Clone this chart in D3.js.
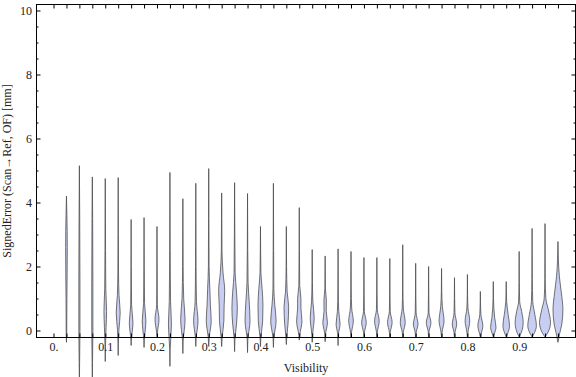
<!DOCTYPE html>
<html>
<head>
<meta charset="utf-8">
<script src="https://cdn.jsdelivr.net/npm/d3@7"></script>
<style>
  body { margin: 0; background: #fff; }
  text { font-family: "Liberation Serif", "DejaVu Serif", serif; fill: #222; }
</style>
</head>
<body>
<svg id="chart" width="576" height="377"></svg>
<script>
// violin centres (visibility bins)
const visibility = [0.025, 0.05, 0.075, 0.1, 0.125, 0.15, 0.175, 0.2, 0.225, 0.25,
  0.275, 0.3, 0.325, 0.35, 0.375, 0.4, 0.425, 0.45, 0.475, 0.5,
  0.525, 0.55, 0.575, 0.6, 0.625, 0.65, 0.675, 0.7, 0.725, 0.75,
  0.775, 0.8, 0.825, 0.85, 0.875, 0.9, 0.925, 0.95, 0.975];

// range of signed error per bin [mm]
const errMin = [-0.37, -1.6, -1.6, -0.97, -0.78, -0.47, -0.53, -0.2, -1.12, -0.72,
  -0.5, -0.5, -0.5, -0.66, -0.69, -0.5, -0.53, -0.44, -0.3, -0.37,
  -0.35, -0.47, -0.22, -0.2, -0.22, -0.22, -0.22, -0.22, -0.22, -0.22,
  -0.22, -0.22, -0.2, -0.2, -0.2, -0.2, -0.2, -0.2, -0.37];
const errMax = [4.2, 5.15, 4.8, 4.75, 4.78, 3.47, 3.53, 3.25, 4.94, 4.12,
  4.6, 5.06, 4.3, 4.62, 4.28, 3.25, 4.6, 3.25, 3.84, 2.53,
  2.33, 2.55, 2.47, 2.28, 2.28, 2.25, 2.68, 2.1, 2.0, 1.94,
  1.65, 1.75, 1.22, 1.53, 1.53, 2.47, 3.19, 3.34, 2.78];

// smoothed density knots [error, relative density] inside each range
const densityKnots = [
  [[-0.1, 0.05], [1.0, 0.08], [2.6, 0.15], [3.6, 0.08]],
  [[-1.0, 0.04], [0, 0.1], [1.5, 0.1], [3.5, 0.06]],
  [[-1.0, 0.04], [0, 0.1], [1.5, 0.1], [3.5, 0.06]],
  [[-0.5, 0.04], [0.1, 0.15], [0.6, 0.24], [1.3, 0.1], [2.5, 0.05]],
  [[-0.4, 0.03], [0, 0.12], [0.55, 0.36], [1.1, 0.15], [1.8, 0.06], [3, 0.03]],
  [[-0.3, 0.04], [0.25, 0.33], [0.8, 0.08], [2, 0.03]],
  [[-0.3, 0.05], [0.3, 0.33], [0.85, 0.09], [2, 0.03]],
  [[-0.05, 0.08], [0.35, 0.36], [0.8, 0.06], [1.8, 0.03]],
  [[-0.6, 0.04], [0.2, 0.27], [0.9, 0.12], [2.5, 0.05]],
  [[-0.35, 0.05], [0.35, 0.4], [1.0, 0.15], [2, 0.05]],
  [[-0.25, 0.06], [0.3, 0.4], [0.9, 0.12], [2, 0.05]],
  [[-0.2, 0.1], [0.3, 0.45], [0.8, 0.3], [1.3, 0.2], [2.0, 0.06], [3.5, 0.03]],
  [[-0.2, 0.1], [0.3, 0.4], [0.8, 0.45], [1.25, 0.55], [1.8, 0.25], [2.5, 0.06], [3.5, 0.03]],
  [[-0.3, 0.05], [0.2, 0.35], [0.7, 0.49], [1.2, 0.35], [1.8, 0.1], [3, 0.04]],
  [[-0.3, 0.05], [0.3, 0.45], [0.9, 0.3], [1.5, 0.1], [2.5, 0.04]],
  [[-0.2, 0.08], [0.3, 0.4], [0.8, 0.45], [1.3, 0.3], [1.8, 0.08], [2.5, 0.03]],
  [[-0.25, 0.06], [0.3, 0.49], [0.8, 0.25], [1.3, 0.08], [2.5, 0.04]],
  [[-0.2, 0.08], [0.2, 0.3], [0.75, 0.42], [1.2, 0.15], [2, 0.04]],
  [[-0.15, 0.08], [0.3, 0.49], [0.7, 0.3], [1.0, 0.3], [1.4, 0.08], [2.5, 0.03]],
  [[-0.15, 0.06], [0.4, 0.36], [0.9, 0.12], [1.5, 0.04]],
  [[-0.1, 0.08], [0.25, 0.42], [0.6, 0.2], [0.95, 0.22], [1.3, 0.05]],
  [[-0.1, 0.08], [0.2, 0.36], [0.6, 0.12], [1.2, 0.04]],
  [[-0.05, 0.1], [0.3, 0.42], [0.7, 0.12], [1.3, 0.04]],
  [[-0.08, 0.06], [0.25, 0.42], [0.6, 0.08], [1.2, 0.03]],
  [[-0.05, 0.08], [0.3, 0.42], [0.65, 0.08], [1.2, 0.03]],
  [[-0.05, 0.08], [0.25, 0.42], [0.6, 0.08], [1.2, 0.03]],
  [[-0.05, 0.1], [0.25, 0.45], [0.7, 0.1], [1.3, 0.03]],
  [[-0.05, 0.1], [0.2, 0.42], [0.55, 0.08], [1.1, 0.03]],
  [[-0.03, 0.08], [0.25, 0.42], [0.55, 0.07], [1.1, 0.03]],
  [[-0.05, 0.1], [0.3, 0.45], [0.75, 0.15], [1.2, 0.04]],
  [[-0.05, 0.1], [0.2, 0.4], [0.55, 0.08], [1.0, 0.03]],
  [[-0.05, 0.1], [0.3, 0.42], [0.7, 0.1], [1.1, 0.03]],
  [[-0.1, 0.15], [0.15, 0.45], [0.5, 0.1], [0.9, 0.03]],
  [[-0.1, 0.2], [0.1, 0.49], [0.4, 0.25], [0.7, 0.1], [1.0, 0.04]],
  [[-0.1, 0.25], [0.15, 0.6], [0.5, 0.35], [0.9, 0.08], [1.2, 0.03]],
  [[-0.1, 0.3], [0.25, 0.73], [0.6, 0.45], [0.9, 0.1], [1.5, 0.03]],
  [[-0.1, 0.35], [0.15, 0.78], [0.5, 0.5], [0.9, 0.12], [1.6, 0.04]],
  [[-0.1, 0.4], [0.25, 1.0], [0.65, 0.6], [1.0, 0.15], [1.6, 0.04]],
  [[-0.1, 0.3], [0.2, 0.7], [0.65, 0.9], [1.2, 0.6], [1.7, 0.25], [2.2, 0.08]]
];

const xLabelValues = [0, 0.1, 0.2, 0.3, 0.4, 0.5, 0.6, 0.7, 0.8, 0.9];
const xTickLabels = ['0.', '0.1', '0.2', '0.3', '0.4', '0.5', '0.6', '0.7', '0.8', '0.9'];
const yMajor = [0, 2, 4, 6, 8, 10];
const yMinor = [0.5, 1, 1.5, 2.5, 3, 3.5, 4.5, 5, 5.5, 6.5, 7, 7.5, 8.5, 9, 9.5];

const svg = d3.select('#chart');
const frame = {left: 36.5, right: 575.5, top: 4.5, bottom: 337.5};

const x = d3.scaleLinear().domain([-0.0329, 1.0089]).range([frame.left, frame.right]);
const y = d3.scaleLinear().domain([-0.21875, 10.1875]).range([frame.bottom, frame.top]);
const halfWidth = d3.scaleLinear().domain([0, 1]).range([0, 5.5]);

// violins
const violins = svg.append('g').attr('class', 'violins');
visibility.forEach(function (v, i) {
  const cx = x(v);
  const pts = [[errMax[i], 0]].concat(densityKnots[i].slice().reverse(), [[errMin[i], 0]]);
  const area = d3.area()
    .curve(d3.curveMonotoneY)
    .y(function (d) { return y(d[0]); })
    .x0(function (d) { return cx - halfWidth(d[1]); })
    .x1(function (d) { return cx + halfWidth(d[1]); });
  violins.append('path')
    .attr('d', area(pts))
    .style('fill', '#c7cef1')
    .style('stroke', '#4a4a4a')
    .style('stroke-opacity', 0.85)
    .style('stroke-width', 0.9)
    .style('stroke-linejoin', 'round');
});

// frame
svg.append('rect')
  .attr('x', frame.left).attr('y', frame.top)
  .attr('width', frame.right - frame.left).attr('height', frame.bottom - frame.top)
  .style('fill', 'none').style('stroke', '#000').style('stroke-width', 1);

const xTickValues = [0].concat(visibility);

function styleAxis(g) {
  g.select('.domain').remove();
  g.selectAll('line').style('stroke', '#000');
  g.selectAll('text').style('font-size', '12px').style('font-family', '"Liberation Serif", serif').style('fill', '#222');
}

svg.append('g').attr('transform', 'translate(0,' + frame.bottom + ')')
  .call(d3.axisBottom(x).tickValues(xTickValues).tickSize(-4).tickFormat(''))
  .call(styleAxis);
svg.append('g').attr('transform', 'translate(0,' + frame.bottom + ')')
  .call(d3.axisBottom(x).tickValues(xLabelValues).tickSize(0).tickPadding(5)
    .tickFormat(function (d, i) { return xTickLabels[i]; }))
  .call(styleAxis);
svg.append('g').attr('transform', 'translate(0,' + frame.top + ')')
  .call(d3.axisTop(x).tickValues(xTickValues).tickSize(-4).tickFormat(''))
  .call(styleAxis);

svg.append('g').attr('transform', 'translate(' + frame.left + ',0)')
  .call(d3.axisLeft(y).tickValues(yMajor).tickSize(-4).tickPadding(4.5).tickFormat(d3.format('d')))
  .call(styleAxis);
svg.append('g').attr('transform', 'translate(' + frame.left + ',0)')
  .call(d3.axisLeft(y).tickValues(yMinor).tickSize(-2).tickFormat(''))
  .call(styleAxis);
svg.append('g').attr('transform', 'translate(' + frame.right + ',0)')
  .call(d3.axisRight(y).tickValues(yMajor).tickSize(-4).tickFormat(''))
  .call(styleAxis);
svg.append('g').attr('transform', 'translate(' + frame.right + ',0)')
  .call(d3.axisRight(y).tickValues(yMinor).tickSize(-2).tickFormat(''))
  .call(styleAxis);

// axis titles
svg.append('text')
  .attr('x', (frame.left + frame.right) / 2).attr('y', 372)
  .attr('text-anchor', 'middle')
  .style('font-size', '12px')
  .text('Visibility');
svg.append('text')
  .attr('transform', 'translate(11,' + (frame.top + frame.bottom) / 2 + ') rotate(-90)')
  .attr('text-anchor', 'middle')
  .style('font-size', '12px')
  .text('SignedError (Scan\u2192Ref, OF) [mm]');
</script>
</body>
</html>
